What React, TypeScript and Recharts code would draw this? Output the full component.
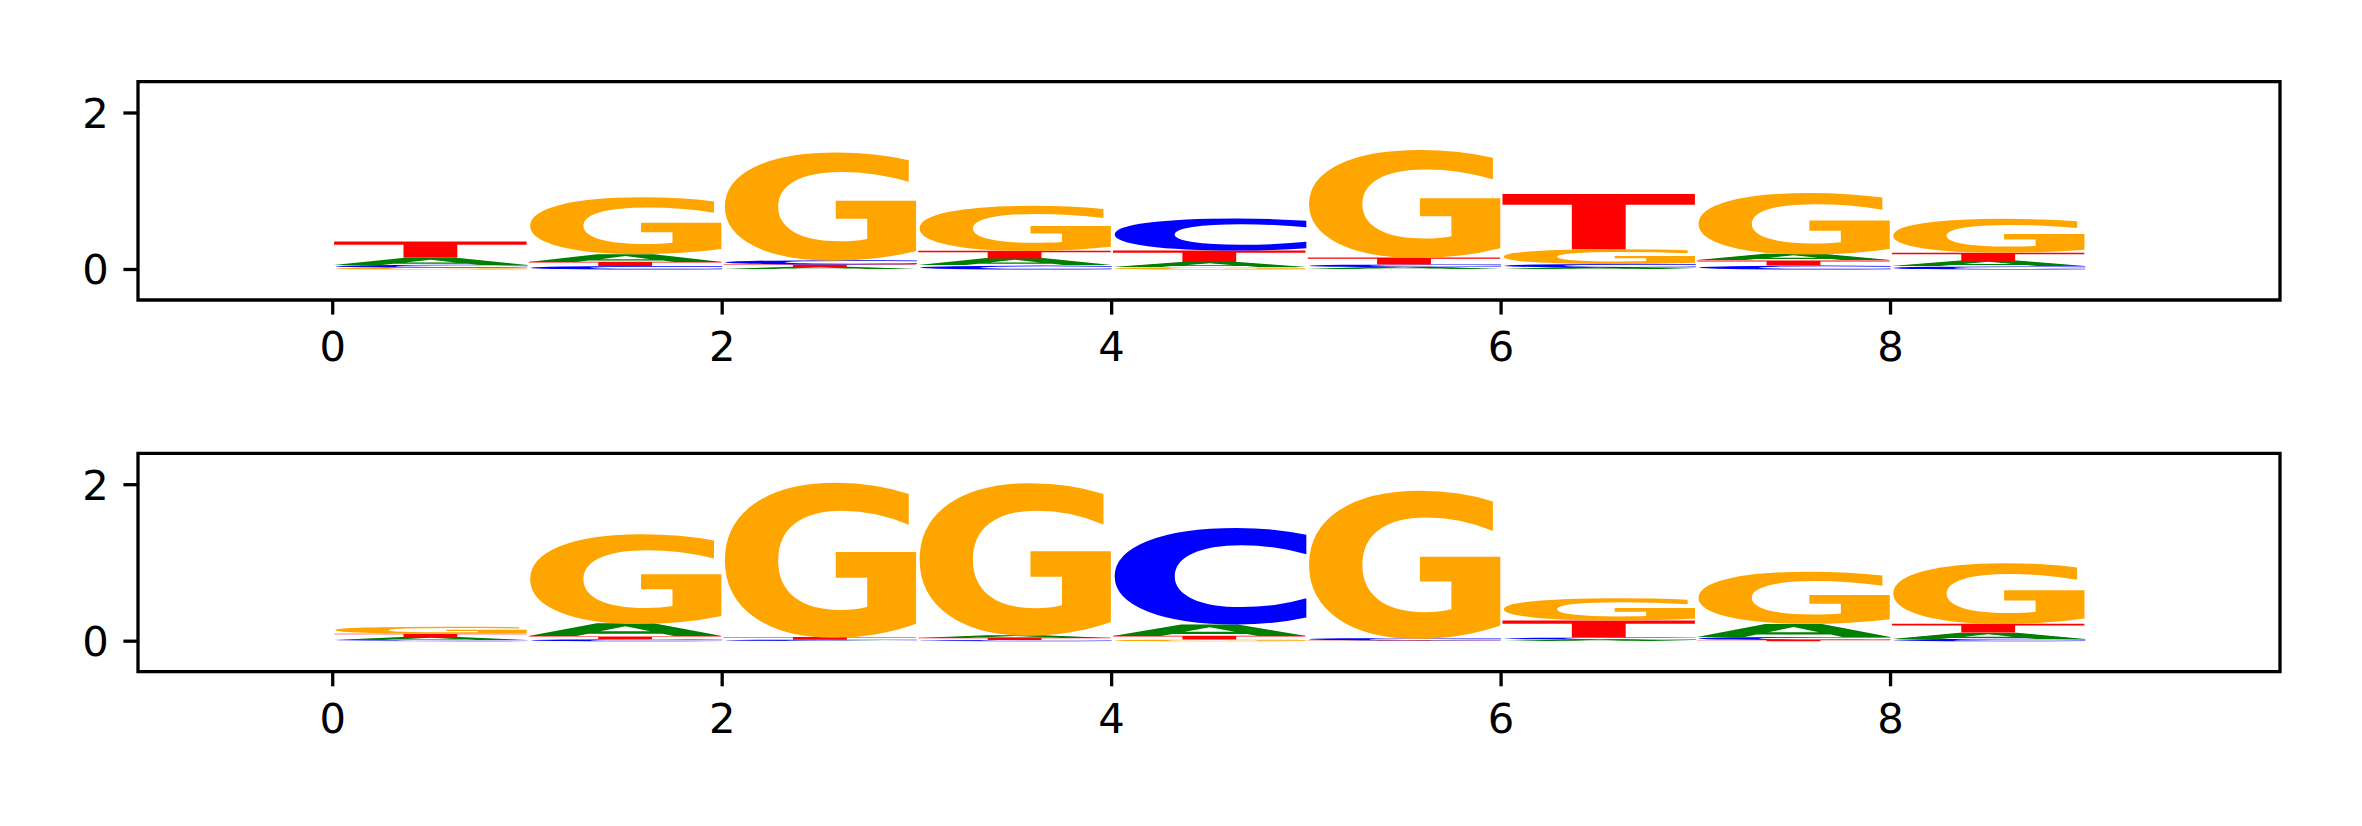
import React from 'react';
import { ComposedChart, XAxis, YAxis, ReferenceArea, Scatter } from 'recharts';

// ---------- data ----------
const positions = [0, 1, 2, 3, 4, 5, 6, 7, 8];
const xTicks = [0, 2, 4, 6, 8];
const yTicks = [0, 2];
const letters = ['A', 'C', 'G', 'T'];
const letterColors: Record<string, string> = { A: '#008000', C: '#0000ff', G: '#ffa500', T: '#ff0000' };

// top logo
const topA = [0.09, 0.1, 0.03, 0.09, 0.065, 0.03, 0.025, 0.08, 0.07];
const topC = [0.035, 0.045, 0.055, 0.05, 0.41, 0.035, 0.045, 0.05, 0.04];
const topG = [0.025, 0.73, 1.39, 0.58, 0.03, 1.385, 0.19, 0.79, 0.435];
const topT = [0.21, 0.055, 0.035, 0.1, 0.15, 0.09, 0.715, 0.065, 0.107];

// bottom logo
const botA = [0.04, 0.165, 0.004, 0.035, 0.15, 0.005, 0.02, 0.17, 0.08];
const botC = [0.012, 0.025, 0.015, 0.015, 1.24, 0.03, 0.027, 0.04, 0.03];
const botG = [0.09, 1.155, 1.99, 1.96, 0.02, 1.9, 0.285, 0.67, 0.78];
const botT = [0.045, 0.035, 0.035, 0.03, 0.05, 0.006, 0.22, 0.015, 0.115];

const X_DOMAIN: [number, number] = [-1, 10];
const Y_DOMAIN: [number, number] = [-0.39, 2.4];

// ---------- layout ----------
const W = 2362;
const PANEL_H = 413;
const BASE = 100;
const FONT = 'DejaVu Sans';

type Stack = { pos: number; ch: string; y1: number; y2: number };

function buildStacks(vals: Record<string, number[]>): Stack[] {
  const out: Stack[] = [];
  positions.forEach((p, i) => {
    const items = letters.map((l) => ({ l, v: vals[l][i] })).sort((a, b) => a.v - b.v);
    let floor = 0;
    items.forEach((it) => {
      out.push({ pos: p, ch: it.l, y1: floor, y2: floor + it.v });
      floor += it.v;
    });
  });
  return out;
}

const topStacks = buildStacks({ A: topA, C: topC, G: topG, T: topT });
const botStacks = buildStacks({ A: botA, C: botC, G: botG, T: botT });
const centers = positions.map((p) => ({ x: p + 0.5, y: 0 }));

const inkCache = new Map<string, { l: number; r: number; a: number; d: number }>();
function ink(ch: string) {
  let m = inkCache.get(ch);
  if (!m) {
    const ctx = document.createElement('canvas').getContext('2d')!;
    ctx.font = `bold ${BASE}px "${FONT}"`;
    const t = ctx.measureText(ch);
    m = {
      l: t.actualBoundingBoxLeft,
      r: t.actualBoundingBoxRight,
      a: t.actualBoundingBoxAscent,
      d: t.actualBoundingBoxDescent,
    };
    inkCache.set(ch, m);
  }
  return m;
}

function Glyph(props: any) {
  const { x, y, width, height, ch, color } = props;
  if (!(width > 0) || !(height > 0)) return <g />;
  const m = ink(ch);
  const sx = width / (m.l + m.r);
  const sy = height / (m.a + m.d);
  return (
    <text
      x={0}
      y={0}
      fontSize={BASE}
      fontFamily={FONT}
      fontWeight="bold"
      fill={color}
      textRendering="geometricPrecision"
      transform={`translate(${x + m.l * sx} ${y + m.a * sy}) scale(${sx} ${sy})`}
    >
      {ch}
    </text>
  );
}

const tickStyle = { fill: '#000', fontSize: 41.7, fontFamily: FONT };
const tickLineStyle = { stroke: '#000', strokeWidth: 3.3 };

function Panel({ stacks, marginTop, xAxisHeight }: { stacks: Stack[]; marginTop: number; xAxisHeight: number }) {
  return (
    <ComposedChart width={W} height={PANEL_H} margin={{ top: marginTop, right: 82, bottom: 0, left: 0 }}>
      <XAxis
        type="number"
        dataKey="x"
        domain={X_DOMAIN}
        ticks={xTicks}
        interval={0}
        allowDataOverflow
        height={xAxisHeight}
        axisLine={false}
        tickLine={tickLineStyle}
        tickSize={14.6}
        tickMargin={17}
        tick={tickStyle}
      />
      <YAxis
        type="number"
        dataKey="y"
        domain={Y_DOMAIN}
        ticks={yTicks}
        interval={0}
        allowDataOverflow
        width={138}
        axisLine={false}
        tickLine={tickLineStyle}
        tickSize={14.6}
        tickMargin={14.5}
        tick={tickStyle}
      />
      <Scatter data={centers} dataKey="y" shape={() => <g />} isAnimationActive={false} />
      {stacks.map((s, k) => (
        <ReferenceArea
          key={k}
          x1={s.pos}
          x2={s.pos + 1}
          y1={s.y1}
          y2={s.y2}
          ifOverflow="visible"
          shape={(p: any) => (
            <Glyph x={p.x} y={p.y} width={p.width} height={p.height} ch={s.ch} color={letterColors[s.ch]} />
          )}
        />
      ))}
      <ReferenceArea
        x1={X_DOMAIN[0]}
        x2={X_DOMAIN[1]}
        y1={Y_DOMAIN[0]}
        y2={Y_DOMAIN[1]}
        ifOverflow="visible"
        fill="none"
        fillOpacity={0}
        stroke="#000"
        strokeWidth={3.3}
      />
    </ComposedChart>
  );
}

export default function App() {
  return (
    <div style={{ position: 'absolute', left: 0, top: 0, width: W, height: 826, background: '#fff' }}>
      <Panel stacks={topStacks} marginTop={81.7} xAxisHeight={113} />
      <Panel stacks={botStacks} marginTop={40.4} xAxisHeight={154.3} />
    </div>
  );
}
